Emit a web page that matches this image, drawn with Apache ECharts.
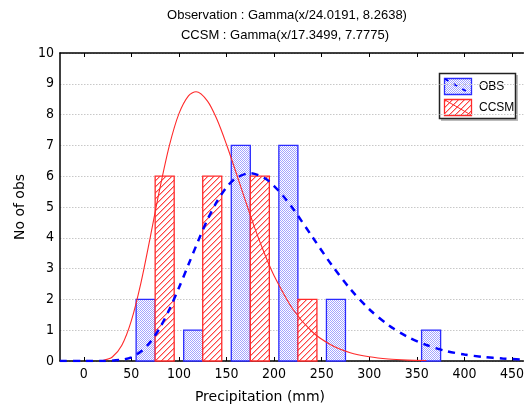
<!DOCTYPE html>
<html>
<head>
<meta charset="utf-8">
<script src="https://cdn.jsdelivr.net/npm/echarts@6/dist/echarts.min.js"></script>
<style>
html,body{margin:0;padding:0;background:#fff;}
#chart{width:527px;height:409px;}
</style>
</head>
<body>
<div id="chart"></div>
<script>
// ---- data ----
const titleLines = ['Observation : Gamma(x/24.0191, 8.2638)', 'CCSM : Gamma(x/17.3499, 7.7775)'];
const xAxisName = 'Precipitation (mm)';
const yAxisName = 'No of obs';
const xTicks = [0, 50, 100, 150, 200, 250, 300, 350, 400, 450];
const seriesNames = ['OBS', 'CCSM'];
// histogram bars: [bin centre, count]
const obsBars = [[65, 2], [115, 1], [165, 7], [215, 7], [265, 2], [365, 1]];
const ccsmBars = [[85, 6], [135, 6], [185, 6], [235, 2]];
// fitted curves: [x, count]
const obsCurve = [[-25, 0], [0, 0], [20, 0], [40, 0.04], [50, 0.12], [60, 0.31], [70, 0.62], [80, 1.08], [90, 1.68], [100, 2.38],
  [110, 3.13], [120, 3.88], [130, 4.59], [140, 5.18], [150, 5.64], [160, 5.94], [175, 6.1], [190, 5.94], [200, 5.68],
  [210, 5.34], [220, 4.94], [240, 4.04], [260, 3.14], [280, 2.34], [300, 1.68], [320, 1.17], [340, 0.79], [360, 0.52],
  [380, 0.33], [400, 0.21], [420, 0.13], [440, 0.08], [460, 0.05], [475, 0.035]];
const ccsmCurve = [[20, 0.015], [30, 0.13], [40, 0.51], [50, 1.31], [60, 2.53], [70, 4.04], [80, 5.61], [90, 7.0], [100, 8.03],
  [110, 8.61], [118, 8.74], [130, 8.44], [140, 7.84], [150, 7.03], [160, 6.12], [170, 5.19], [180, 4.29], [190, 3.48],
  [200, 2.77], [220, 1.67], [240, 0.95], [260, 0.52], [280, 0.27], [300, 0.14], [320, 0.066], [340, 0.03], [360, 0.014]];

// ---- styles ----
const BLUE = '#2a2aff', RED = '#ff2a2a';
const HALF_BIN = 10;

function dotPattern() {
  const c = document.createElement('canvas'); c.width = 2; c.height = 2;
  const g = c.getContext('2d');
  g.fillStyle = '#ffffff'; g.fillRect(0, 0, 2, 2);
  g.fillStyle = '#a4a4ff'; g.fillRect(0, 0, 1, 1); g.fillRect(1, 1, 1, 1);
  return c;
}
function hatchPattern() {
  const s = 6;
  const c = document.createElement('canvas'); c.width = s; c.height = s;
  const g = c.getContext('2d');
  g.fillStyle = '#ffffff'; g.fillRect(0, 0, s, s);
  for (let i = 0; i < s; i++) {
    g.fillStyle = '#ff4444'; g.fillRect(i, s - 1 - i, 1, 1);
    g.fillStyle = '#ffb0b0'; g.fillRect(i, (s - i) % s, 1, 1);
  }
  return c;
}
const dotFill = { image: dotPattern(), repeat: 'repeat' };
const hatchFill = { image: hatchPattern(), repeat: 'repeat' };

function barRenderer(fill, stroke) {
  return function (params, api) {
    const x = api.value(0), y = api.value(1);
    const a = api.coord([x - HALF_BIN, y]);
    const b = api.coord([x + HALF_BIN, 0]);
    return {
      type: 'rect',
      shape: { x: a[0], y: a[1], width: b[0] - a[0], height: b[1] - a[1] },
      style: { fill: fill, stroke: stroke, lineWidth: 1.3 }
    };
  };
}

const tickFont = { fontFamily: '"DejaVu Sans Condensed", "DejaVu Sans", sans-serif', fontSize: 14, color: '#000' };

const chart = echarts.init(document.getElementById('chart'), null, { renderer: 'canvas' });
chart.setOption({
  animation: false,
  backgroundColor: '#fff',
  grid: { left: 60, top: 53, bottom: 48, right: 0, containLabel: false },
  xAxis: [{
    type: 'value', min: -25, max: 462, position: 'bottom',
    axisLine: { show: true, onZero: false, lineStyle: { color: '#000', width: 1.5 } },
    axisTick: { show: true, inside: true, length: 4, customValues: xTicks, lineStyle: { color: '#000' } },
    axisLabel: Object.assign({ margin: 6, customValues: xTicks }, tickFont),
    splitLine: { show: false }
  }, {
    type: 'value', min: -25, max: 462, position: 'top',
    axisLine: { show: true, onZero: false, lineStyle: { color: '#000', width: 1.5 } },
    axisTick: { show: true, inside: true, length: 4, customValues: xTicks, lineStyle: { color: '#000' } },
    axisLabel: { show: false },
    splitLine: { show: false }
  }],
  yAxis: {
    type: 'value', min: 0, max: 10, interval: 1,
    name: yAxisName, nameLocation: 'middle', nameGap: 31, nameRotate: 90,
    nameTextStyle: { fontFamily: '"DejaVu Sans", sans-serif', fontSize: 14, color: '#000' },
    axisLine: { show: true, onZero: false, lineStyle: { color: '#000', width: 1.5 } },
    axisTick: { show: false },
    axisLabel: Object.assign({ margin: 6 }, tickFont),
    splitLine: { show: true, lineStyle: { color: '#c8c8c8', type: [1.5, 1.5], width: 1 } }
  },
  series: [
    { name: seriesNames[0], type: 'custom', data: obsBars, renderItem: barRenderer(dotFill, BLUE), z: 2 },
    { name: seriesNames[1], type: 'custom', data: ccsmBars, renderItem: barRenderer(hatchFill, RED), z: 2 },
    { name: seriesNames[1] + ' fit', type: 'line', data: ccsmCurve, smooth: 0.3, showSymbol: false, z: 3,
      lineStyle: { color: RED, width: 1.1 } },
    { name: seriesNames[0] + ' fit', type: 'line', data: obsCurve, smooth: 0.3, showSymbol: false, z: 4,
      lineStyle: { color: '#0000ff', width: 2.5, type: [7, 6] } }
  ],
  graphic: [
    { type: 'text', x: 287, y: 15, style: { text: titleLines[0], align: 'center', verticalAlign: 'middle',
      font: '13px "Liberation Sans", Arial, sans-serif', fill: '#000' } },
    { type: 'text', x: 285, y: 35, style: { text: titleLines[1], align: 'center', verticalAlign: 'middle',
      font: '13px "Liberation Sans", Arial, sans-serif', fill: '#000' } },
    { type: 'text', x: 260, y: 397, style: { text: xAxisName, align: 'center', verticalAlign: 'middle',
      font: '14px "DejaVu Sans", sans-serif', fill: '#000' } },
    { type: 'group', z: 100, children: [
      { type: 'rect', shape: { x: 441, y: 75, width: 77, height: 46 }, style: { fill: '#bbb' } },
      { type: 'rect', shape: { x: 439.5, y: 73.5, width: 76, height: 45 }, style: { fill: '#fff', stroke: '#222', lineWidth: 1.5 } },
      { type: 'rect', shape: { x: 444.5, y: 78.5, width: 27, height: 16 }, style: { fill: dotFill, stroke: BLUE, lineWidth: 1.3 } },
      { type: 'line', shape: { x1: 445, y1: 79, x2: 471, y2: 94 }, style: { stroke: '#0000ff', lineWidth: 2, lineDash: [4, 6] } },
      { type: 'rect', shape: { x: 444.5, y: 99.5, width: 27, height: 16 }, style: { fill: hatchFill, stroke: RED, lineWidth: 1.3 } },
      { type: 'line', shape: { x1: 445, y1: 100, x2: 471, y2: 115 }, style: { stroke: RED, lineWidth: 1 } },
      { type: 'text', x: 479, y: 87, style: { text: seriesNames[0], verticalAlign: 'middle', font: '12px "Liberation Sans", Arial, sans-serif', fill: '#000' } },
      { type: 'text', x: 479, y: 108, style: { text: seriesNames[1], verticalAlign: 'middle', font: '12px "Liberation Sans", Arial, sans-serif', fill: '#000' } }
    ] }
  ]
});
</script>
</body>
</html>
